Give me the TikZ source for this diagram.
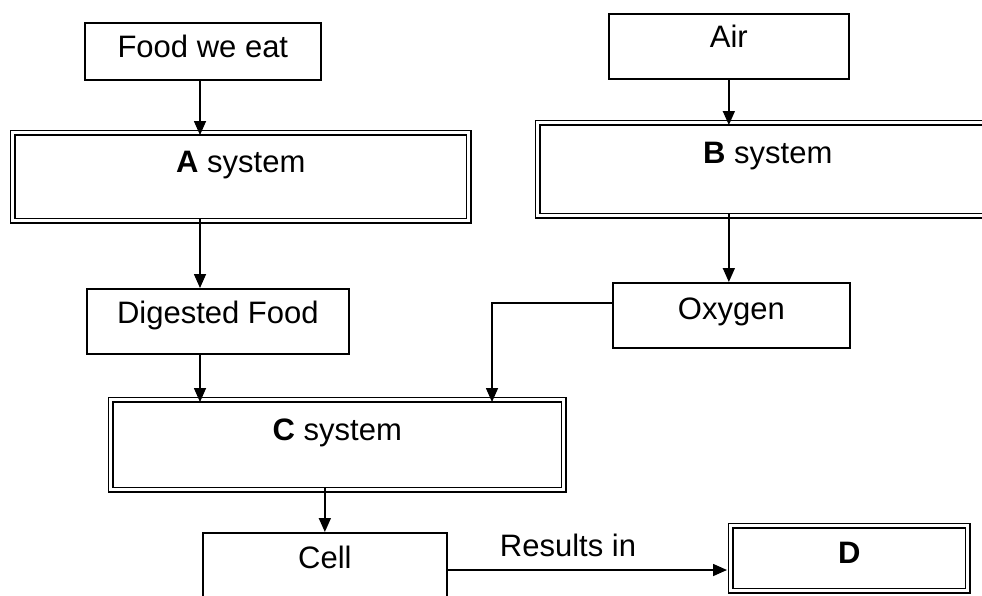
\documentclass[tikz,border=0pt]{standalone}
\usepackage{fontspec}
\setmainfont{Liberation Sans}
\usetikzlibrary{arrows.meta}
\begin{document}
\begin{tikzpicture}[x=1pt,y=-1pt,
  font=\fontsize{31}{36}\selectfont,
  sbox/.style={draw=black, line width=1.7pt, inner xsep=0pt, inner ysep=0pt, anchor=north west},
  dbox/.style={draw=black, line width=1.5pt, double=white, double distance=3pt, inner xsep=0pt, inner ysep=0pt, anchor=north west},
  arr/.style={draw=black, line width=1.6pt, -{Triangle[length=14pt,width=12pt]}}]
\useasboundingbox (0,0) rectangle (982,595);
% boxes: minimum width = right-left, text height = baseline-top, text depth = bottom-baseline
\node[sbox, minimum width=236pt, text height=35pt, text depth=22pt] (food) at (84,22) {Food we eat};
\node[sbox, minimum width=240pt, text height=34pt, text depth=31pt] (air) at (608,13) {Air};
\node[dbox, minimum width=456pt, text height=40pt, text depth=48pt] (A) at (12,132) {\textbf{A} system};
\node[dbox, minimum width=460pt, text height=41pt, text depth=52pt] (B) at (537,122) {\textbf{B} system};
\node[sbox, minimum width=262pt, text height=35pt, text depth=30pt] (dig) at (86,288) {Digested Food};
\node[sbox, minimum width=237pt, text height=37pt, text depth=28pt] (oxy) at (612,282) {Oxygen};
\node[dbox, minimum width=453pt, text height=41pt, text depth=49pt] (C) at (110,399) {\textbf{C} system};
\node[sbox, minimum width=244pt, text height=36pt, text depth=60pt] (cell) at (202,532) {Cell};
\node[dbox, minimum width=237pt, text height=38pt, text depth=27pt] (D) at (730,525) {\textbf{D}};
\node[anchor=base, inner sep=0pt] (res) at (568,556) {Results in};
% connector helpers
\coordinate (xl) at (200,0);
\coordinate (oj) at (492,303);
\coordinate (rj) at (0,570);
% connectors
\draw[arr] (food.south -| xl) -- ([yshift=-3pt]A.north -| xl);
\draw[arr] (air.south) -- ([yshift=-3pt]B.north -| air.south);
\draw[arr] ([yshift=3pt]A.south -| xl) -- (dig.north -| xl);
\draw[arr] (dig.south -| xl) -- ([yshift=-3pt]C.north -| xl);
\draw[arr] ([yshift=3pt]B.south -| air.south) -- (oxy.north -| air.south);
\draw[arr] (oxy.west |- oj) -- (oj) -- ([yshift=-3pt]C.north -| oj);
\draw[arr] ([yshift=3pt]C.south -| cell.north) -- (cell.north);
\draw[arr] (cell.east |- rj) -- ([xshift=-3pt]D.west |- rj);
\end{tikzpicture}
\end{document}
